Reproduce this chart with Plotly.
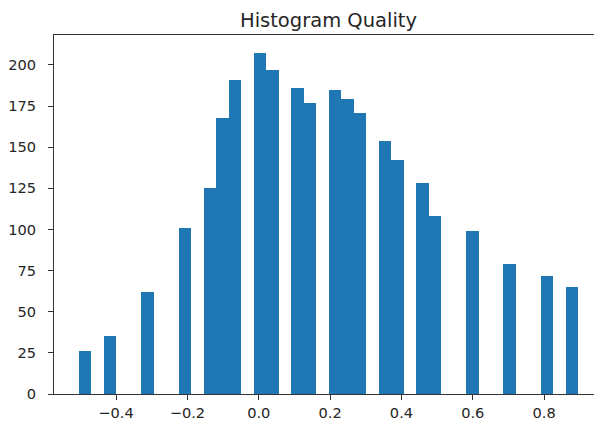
import numpy as np
import plotly.graph_objects as go

# Histogram data (40 equal-width bins)
bin_min = -0.504
bin_max = 0.896
n_bins = 40
bin_counts = [26, 0, 35, 0, 0, 62, 0, 0, 101, 0,
              125, 168, 191, 0, 207, 197, 0, 186, 177, 0,
              185, 179, 171, 0, 154, 142, 0, 128, 108, 0,
              0, 99, 0, 0, 79, 0, 0, 72, 0, 65]
x_tick_vals = [-0.4, -0.2, 0.0, 0.2, 0.4, 0.6, 0.8]
x_tick_text = ["−0.4", "−0.2", "0.0", "0.2", "0.4", "0.6", "0.8"]
y_tick_vals = [0, 25, 50, 75, 100, 125, 150, 175, 200]
title_text = "Histogram Quality"

edges = np.linspace(bin_min, bin_max, n_bins + 1)
centers = (edges[:-1] + edges[1:]) / 2
width = edges[1] - edges[0]

fig = go.Figure()
fig.add_trace(go.Bar(
    x=centers, y=bin_counts, width=[width] * n_bins,
    marker=dict(color="#1f77b4", line=dict(width=0)),
))

font = dict(family="DejaVu Sans", size=14.6, color="#262626")
fig.update_layout(
    width=594, height=424,
    margin=dict(l=54, r=0, t=35, b=30),
    paper_bgcolor="white", plot_bgcolor="white",
    bargap=0, showlegend=False,
    font=font,
    title=dict(text=title_text, x=(54 + 603) / 2 / 594, xanchor="center",
               y=1 - 26.5 / 424, yanchor="bottom",
               font=dict(family="DejaVu Sans", size=19.5, color="#262626")),
)
fig.update_xaxes(
    range=[-0.574, 0.9397], tickvals=x_tick_vals, ticktext=x_tick_text,
    showgrid=False, zeroline=False, showline=True, mirror=True,
    linecolor="#333333", linewidth=1.1, ticks="outside", ticklen=5,
    tickcolor="#333333", tickwidth=1.1, tickfont=font,
)
fig.update_yaxes(
    range=[0, 218.2], tickvals=y_tick_vals,
    showgrid=False, zeroline=False, showline=True, mirror=False,
    linecolor="#333333", linewidth=1.1, ticks="outside", ticklen=5,
    tickcolor="#333333", tickwidth=1.1, tickfont=font,
    ticklabelstandoff=9,
)
fig.write_html("out.html")
